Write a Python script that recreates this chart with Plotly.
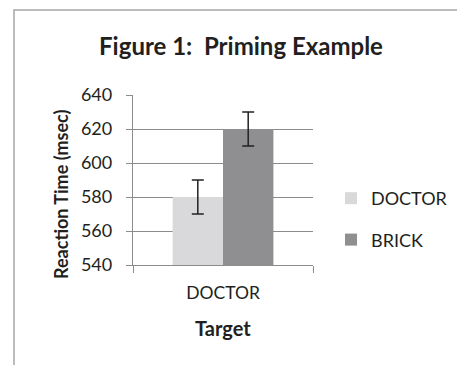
import plotly.graph_objects as go

categories = ["DOCTOR"]
series_names = ["DOCTOR", "BRICK"]
doctor_values = [580]
brick_values = [620]
doctor_errors = [10]
brick_errors = [10]
y_ticks = [540, 560, 580, 600, 620, 640]

FONT = "Lato"
TXT = "#231f20"
GRID = "#8c8c8c"

OFF = 8  # default page body margin
W, H = 465 - OFF, 365 - OFF
# plot area in page pixels, converted to figure pixels
L, R, T, B = 133 - OFF, 313 - OFF, 95 - OFF, 265 - OFF

def px_x(p):
    return (p - OFF - L) / (R - L)

def px_y(p):
    return (B - (p - OFF)) / (B - T)

fig = go.Figure()
fig.add_trace(go.Bar(
    x=categories, y=doctor_values, name=series_names[0],
    marker=dict(color="#d9d9db", line=dict(width=0)),
    error_y=dict(type="data", array=doctor_errors, color="#222222", thickness=1.5, width=6),
    legendgroup="a",
))
fig.add_trace(go.Bar(
    x=categories, y=brick_values, name=series_names[1],
    marker=dict(color="#8f8f92", line=dict(width=0)),
    error_y=dict(type="data", array=brick_errors, color="#222222", thickness=1.5, width=6),
    legendgroup="b",
))

fig.update_layout(
    width=W, height=H,
    margin=dict(l=L, r=W - R, t=T, b=H - B, autoexpand=False),
    paper_bgcolor="white", plot_bgcolor="white",
    barmode="group", bargap=0.44, bargroupgap=0,
    font=dict(family=FONT, color=TXT, size=18),
    title=dict(text="<b>Figure 1:  Priming Example</b>", x=(241 - OFF) / W, xref="container",
               y=1 - (47 - OFF) / H, yref="container", xanchor="center", yanchor="middle",
               font=dict(size=24, family=FONT, color=TXT)),
    xaxis=dict(range=[-0.5, 0.5], tickson="boundaries", ticks="outside", ticklen=7,
               tickcolor=GRID, showline=True, linecolor=GRID, linewidth=1.3,
               showgrid=False, tickfont=dict(size=17.5), ticklabelstandoff=12,
               title=dict(text="")),
    yaxis=dict(range=[540, 640], tickvals=y_ticks, ticks="outside", ticklen=6,
               tickcolor=GRID, showline=True, linecolor=GRID, linewidth=1.3,
               showgrid=True, gridcolor=GRID, gridwidth=1.3, zeroline=False,
               tickfont=dict(size=18), ticklabelstandoff=10),
    legend=dict(x=px_x(331), y=px_y(180), xanchor="left", yanchor="top",
                font=dict(size=18), tracegroupgap=15, traceorder="grouped",
                bgcolor="rgba(0,0,0,0)"),
    showlegend=True,
)

fig.add_annotation(text="<b>Reaction Time (msec)</b>", textangle=-90,
                   x=px_x(61), y=px_y(195), xref="paper", yref="paper",
                   xanchor="center", yanchor="middle",
                   showarrow=False, font=dict(size=18, family=FONT, color=TXT))
fig.add_annotation(text="<b>Target</b>", x=px_x(223), y=px_y(328), xref="paper", yref="paper",
                   xanchor="center", yanchor="middle",
                   showarrow=False, font=dict(size=20, family=FONT, color=TXT))

# outer chart frame (clipped by the image on right and bottom)
fig.add_shape(type="rect", xref="paper", yref="paper",
              x0=px_x(14), x1=px_x(480), y0=px_y(380), y1=px_y(10),
              line=dict(color="#a6a6a6", width=1.5), layer="below")

fig.write_html("out.html")
